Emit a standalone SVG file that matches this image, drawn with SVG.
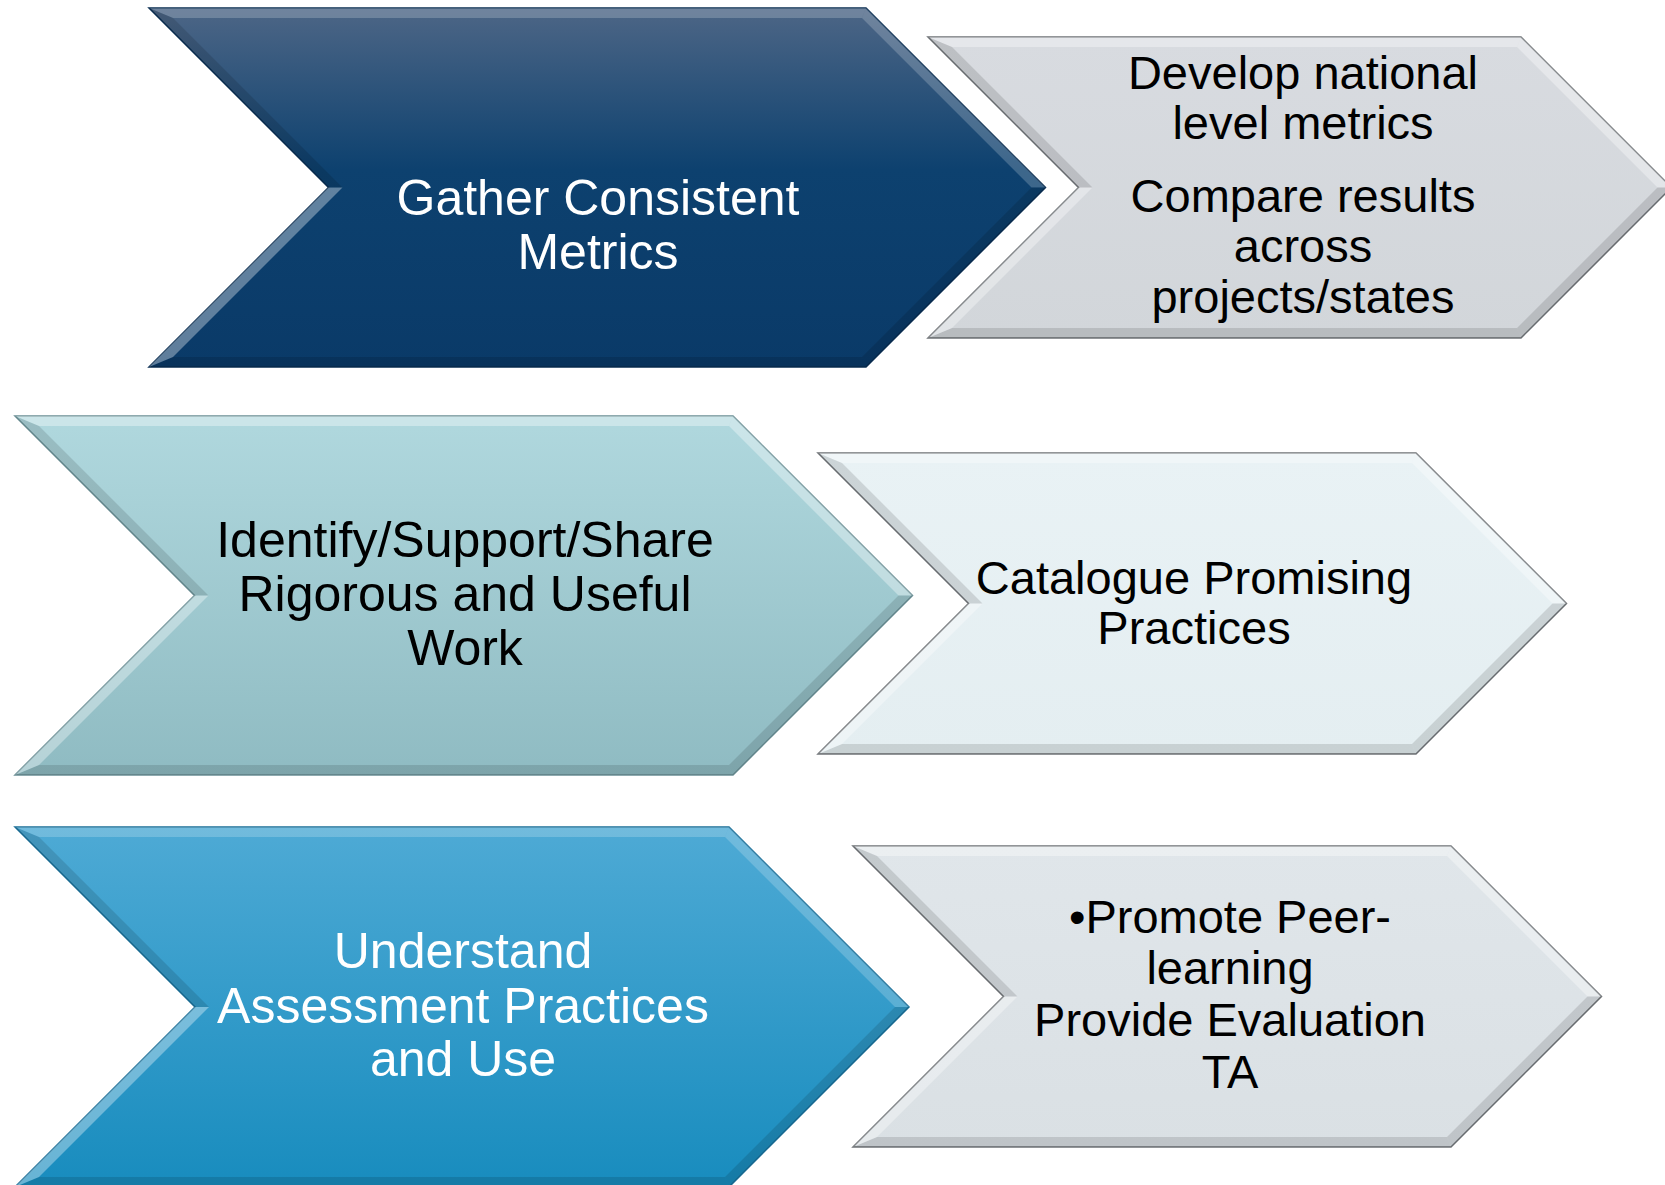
<svg xmlns="http://www.w3.org/2000/svg" width="1665" height="1185" viewBox="0 0 1665 1185">
<defs>
<linearGradient id="g1" x1="0" y1="0" x2="0" y2="1">
<stop offset="0" stop-color="#4d6686"/>
<stop offset="0.45" stop-color="#0d416f"/>
<stop offset="1" stop-color="#0a3a68"/>
</linearGradient>
<linearGradient id="g2" x1="0" y1="0" x2="0" y2="1">
<stop offset="0" stop-color="#d8dbe0"/>
<stop offset="1" stop-color="#d2d6da"/>
</linearGradient>
<linearGradient id="g3" x1="0" y1="0" x2="0" y2="1">
<stop offset="0" stop-color="#b0d8de"/>
<stop offset="1" stop-color="#8fbbc2"/>
</linearGradient>
<linearGradient id="g4" x1="0" y1="0" x2="0" y2="1">
<stop offset="0" stop-color="#e9f2f5"/>
<stop offset="1" stop-color="#e4eef1"/>
</linearGradient>
<linearGradient id="g5" x1="0" y1="0" x2="0" y2="1">
<stop offset="0" stop-color="#4eaad5"/>
<stop offset="1" stop-color="#188cbe"/>
</linearGradient>
<linearGradient id="g6" x1="0" y1="0" x2="0" y2="1">
<stop offset="0" stop-color="#e0e6ea"/>
<stop offset="1" stop-color="#dae0e4"/>
</linearGradient>
</defs>
<style>
.hl{fill:#ffffff;opacity:0.35}
.hl2{fill:#ffffff;opacity:0.2}
.sh{fill:#000000;opacity:0.12}
.sh2{fill:#000000;opacity:0.2}
.t{font-family:"Liberation Sans",Arial,sans-serif;text-anchor:middle}
.big{font-size:50px}
.sm{font-size:47px}
.w{fill:#ffffff}
.k{fill:#000000}
</style>
<rect width="1665" height="1185" fill="#ffffff"/>

<g id="node-gather">
<polygon points="149,8 866,8 1045.5,187.5 866,367 149,367 328.5,187.5" fill="url(#g1)" stroke="#0a2e52" stroke-width="1.5"/>
<polygon class="hl2" points="149,8 866,8 862,18 173,18"/>
<polygon class="hl2" points="866,8 1045.5,187.5 1031.5,187.5 862,18"/>
<polygon class="sh" points="1045.5,187.5 866,367 862,357 1031.5,187.5"/>
<polygon class="sh" points="866,367 149,367 173,357 862,357"/>
<polygon class="hl" points="149,367 328.5,187.5 342.5,187.5 173,357"/>
<polygon class="sh" points="149,8 328.5,187.5 342.5,187.5 173,18"/>
<text class="t big w" x="598" y="215">Gather Consistent</text>
<text class="t big w" x="598" y="269">Metrics</text>
</g>

<g id="node-develop">
<polygon points="928,37 1521,37 1671.5,187.5 1521,338 928,338 1078.5,187.5" fill="url(#g2)" stroke="#6f7377" stroke-width="1.5"/>
<polygon class="hl" points="928,37 1521,37 1517,47 952,47"/>
<polygon class="hl" points="1521,37 1671.5,187.5 1657.5,187.5 1517,47"/>
<polygon class="sh" points="1671.5,187.5 1521,338 1517,328 1657.5,187.5"/>
<polygon class="sh" points="1521,338 928,338 952,328 1517,328"/>
<polygon class="hl" points="928,338 1078.5,187.5 1092.5,187.5 952,328"/>
<polygon class="sh" points="928,37 1078.5,187.5 1092.5,187.5 952,47"/>
<text class="t sm k" x="1303" y="89">Develop national</text>
<text class="t sm k" x="1303" y="139">level metrics</text>
<text class="t sm k" x="1303" y="212">Compare results</text>
<text class="t sm k" x="1303" y="262">across</text>
<text class="t sm k" x="1303" y="313">projects/states</text>
</g>

<g id="node-identify">
<polygon points="15,416 733,416 912.5,595.5 733,775 15,775 194.5,595.5" fill="url(#g3)" stroke="#6a8f95" stroke-width="1.5"/>
<polygon class="hl" points="15,416 733,416 729,426 39,426"/>
<polygon class="hl" points="733,416 912.5,595.5 898.5,595.5 729,426"/>
<polygon class="sh" points="912.5,595.5 733,775 729,765 898.5,595.5"/>
<polygon class="sh" points="733,775 15,775 39,765 729,765"/>
<polygon class="hl" points="15,775 194.5,595.5 208.5,595.5 39,765"/>
<polygon class="sh" points="15,416 194.5,595.5 208.5,595.5 39,426"/>
<text class="t big k" x="465" y="557">Identify/Support/Share</text>
<text class="t big k" x="465" y="611">Rigorous and Useful</text>
<text class="t big k" x="465" y="665">Work</text>
</g>

<g id="node-catalogue">
<polygon points="818,453 1416,453 1566.5,603.5 1416,754 818,754 968.5,603.5" fill="url(#g4)" stroke="#6f7377" stroke-width="1.5"/>
<polygon class="hl" points="818,453 1416,453 1412,463 842,463"/>
<polygon class="hl" points="1416,453 1566.5,603.5 1552.5,603.5 1412,463"/>
<polygon class="sh" points="1566.5,603.5 1416,754 1412,744 1552.5,603.5"/>
<polygon class="sh" points="1416,754 818,754 842,744 1412,744"/>
<polygon class="hl" points="818,754 968.5,603.5 982.5,603.5 842,744"/>
<polygon class="sh" points="818,453 968.5,603.5 982.5,603.5 842,463"/>
<text class="t sm k" x="1194" y="594">Catalogue Promising</text>
<text class="t sm k" x="1194" y="644">Practices</text>
</g>

<g id="node-understand">
<polygon points="15,827 729,827 909,1007 729,1187 15,1187 195,1007" fill="url(#g5)" stroke="#1a6f98" stroke-width="1.5"/>
<polygon class="hl2" points="15,827 729,827 725,837 39,837"/>
<polygon class="hl2" points="729,827 909,1007 895,1007 725,837"/>
<polygon class="sh" points="909,1007 729,1187 725,1177 895,1007"/>
<polygon class="sh" points="729,1187 15,1187 39,1177 725,1177"/>
<polygon class="hl" points="15,1187 195,1007 209,1007 39,1177"/>
<polygon class="sh" points="15,827 195,1007 209,1007 39,837"/>
<text class="t big w" x="463" y="968">Understand</text>
<text class="t big w" x="463" y="1023">Assessment Practices</text>
<text class="t big w" x="463" y="1076">and Use</text>
</g>

<g id="node-promote">
<polygon points="853,846 1451,846 1601.5,996.5 1451,1147 853,1147 1003.5,996.5" fill="url(#g6)" stroke="#6f7377" stroke-width="1.5"/>
<polygon class="hl" points="853,846 1451,846 1447,856 877,856"/>
<polygon class="hl" points="1451,846 1601.5,996.5 1587.5,996.5 1447,856"/>
<polygon class="sh" points="1601.5,996.5 1451,1147 1447,1137 1587.5,996.5"/>
<polygon class="sh" points="1451,1147 853,1147 877,1137 1447,1137"/>
<polygon class="hl" points="853,1147 1003.5,996.5 1017.5,996.5 877,1137"/>
<polygon class="sh" points="853,846 1003.5,996.5 1017.5,996.5 877,856"/>
<text class="t sm k" x="1230" y="933">•Promote Peer-</text>
<text class="t sm k" x="1230" y="984">learning</text>
<text class="t sm k" x="1230" y="1036">Provide Evaluation</text>
<text class="t sm k" x="1230" y="1088">TA</text>
</g>

<g id="connectors"></g>
</svg>
